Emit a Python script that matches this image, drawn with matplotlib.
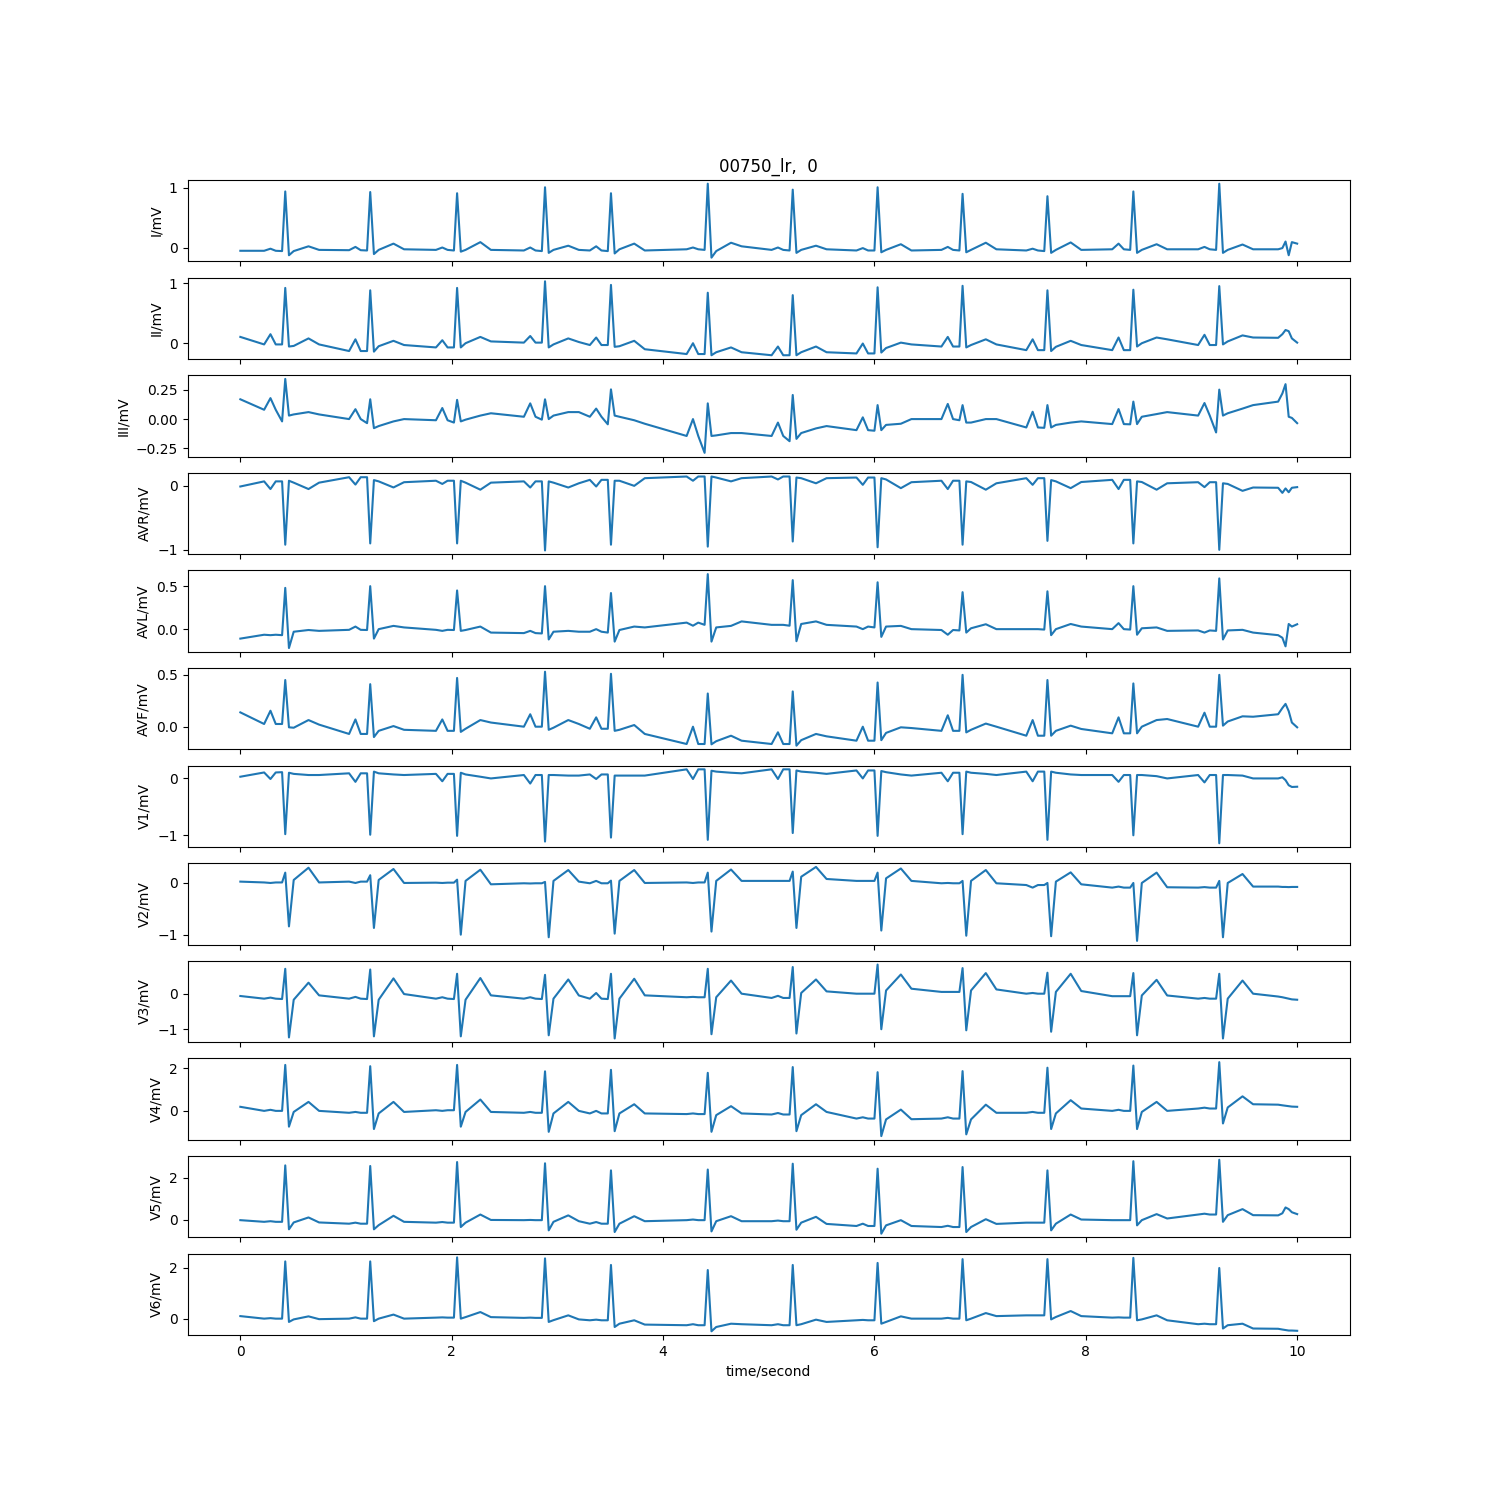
import matplotlib
matplotlib.use("Agg")
import matplotlib.pyplot as plt

TITLE = "00750_lr,  0"
LEAD_NAMES = ["I", "II", "III", "AVR", "AVL", "AVF", "V1", "V2", "V3", "V4", "V5", "V6"]

# R-peak times (s), shared by all leads
R_TIMES = [0.425, 1.229, 2.051, 2.883, 3.507, 4.423, 5.227, 6.030, 6.834, 7.637, 8.450, 9.263]

# per beat rows: [P peak, baseline, Q, R, S, J, T peak, post-T level]  (mV)
I_START = -0.055
I_BEATS = [
    [-0.02, -0.055, -0.06, 0.94, -0.13, -0.06, 0.02, -0.04],
    [0.01, -0.045, -0.05, 0.93, -0.11, -0.04, 0.065, -0.03],
    [0.0, -0.04, -0.05, 0.91, -0.07, -0.04, 0.09, -0.04],
    [0.0, -0.05, -0.06, 1.01, -0.09, -0.04, 0.03, -0.04],
    [0.02, -0.05, -0.06, 0.91, -0.10, -0.03, 0.065, -0.05],
    [0.0, -0.03, -0.04, 1.07, -0.17, -0.06, 0.08, 0.02],
    [0.0, -0.04, -0.05, 0.97, -0.09, -0.04, 0.03, -0.03],
    [-0.01, -0.05, -0.05, 1.01, -0.08, -0.04, 0.055, -0.05],
    [0.01, -0.04, -0.05, 0.90, -0.08, -0.04, 0.08, -0.03],
    [-0.02, -0.05, -0.06, 0.86, -0.09, -0.04, 0.085, -0.04],
    [0.065, -0.03, -0.04, 0.94, -0.09, -0.04, 0.055, -0.03],
    [0.01, -0.03, -0.04, 1.07, -0.09, -0.04, 0.05, -0.03],
]
I_TAIL = [-0.03, -0.01, 0.10, -0.13, 0.09, 0.065]

II_START = 0.105
II_BEATS = [
    [0.15, -0.02, -0.02, 0.92, -0.055, -0.045, 0.08, -0.02],
    [0.065, -0.13, -0.13, 0.88, -0.14, -0.05, 0.04, -0.03],
    [0.05, -0.07, -0.07, 0.92, -0.07, 0.0, 0.105, 0.03],
    [0.12, 0.01, 0.01, 1.03, -0.07, -0.02, 0.08, 0.02],
    [0.095, -0.03, -0.03, 0.97, -0.06, -0.05, 0.04, -0.10],
    [0.0, -0.18, -0.18, 0.84, -0.20, -0.15, -0.07, -0.15],
    [-0.055, -0.20, -0.20, 0.80, -0.20, -0.15, -0.055, -0.15],
    [-0.005, -0.17, -0.17, 0.93, -0.155, -0.08, 0.01, -0.02],
    [0.105, -0.055, -0.055, 0.955, -0.07, -0.03, 0.065, -0.02],
    [0.065, -0.115, -0.115, 0.88, -0.13, -0.06, 0.04, -0.03],
    [0.095, -0.115, -0.115, 0.89, -0.055, 0.0, 0.095, 0.065],
    [0.14, -0.03, -0.03, 0.95, -0.02, 0.03, 0.13, 0.095],
]
II_TAIL = [0.09, 0.15, 0.22, 0.20, 0.08, 0.01]

III_START = 0.17
III_BEATS = [
    [0.18, 0.08, -0.02, 0.345, 0.03, 0.04, 0.06, 0.04],
    [0.085, 0.0, -0.035, 0.17, -0.078, -0.06, -0.02, 0.0],
    [0.095, -0.01, -0.03, 0.165, -0.02, -0.005, 0.03, 0.05],
    [0.135, 0.02, -0.005, 0.17, 0.0, 0.03, 0.06, 0.06],
    [0.09, 0.02, -0.045, 0.255, 0.03, 0.02, -0.01, -0.04],
    [0.0, -0.145, -0.29, 0.135, -0.145, -0.14, -0.12, -0.12],
    [-0.03, -0.145, -0.19, 0.207, -0.17, -0.12, -0.08, -0.06],
    [0.015, -0.095, -0.10, 0.12, -0.095, -0.05, -0.04, 0.0],
    [0.13, 0.0, -0.01, 0.12, -0.03, -0.03, 0.0, 0.0],
    [0.063, -0.072, -0.075, 0.12, -0.072, -0.05, -0.03, -0.02],
    [0.086, -0.043, -0.045, 0.15, -0.043, 0.02, 0.043, 0.06],
    [0.138, 0.03, -0.115, 0.253, 0.03, 0.05, 0.09, 0.12],
]
III_TAIL = [0.15, 0.22, 0.30, 0.02, 0.01, -0.035]

AVR_START = -0.01
AVR_BEATS = [
    [-0.05, 0.07, 0.07, -0.92, 0.08, 0.05, -0.05, 0.05],
    [0.02, 0.135, 0.135, -0.90, 0.09, 0.07, -0.025, 0.057],
    [0.03, 0.08, 0.08, -0.90, 0.08, 0.05, -0.06, 0.05],
    [-0.026, 0.07, 0.07, -1.01, 0.07, 0.05, -0.026, 0.04],
    [-0.01, 0.094, 0.094, -0.92, 0.08, 0.08, 0.0, 0.12],
    [0.08, 0.146, 0.146, -0.95, 0.146, 0.13, 0.07, 0.12],
    [0.10, 0.146, 0.146, -0.87, 0.13, 0.12, 0.04, 0.12],
    [0.016, 0.13, 0.13, -0.96, 0.12, 0.10, -0.036, 0.057],
    [-0.05, 0.08, 0.08, -0.92, 0.07, 0.06, -0.06, 0.04],
    [0.016, 0.12, 0.12, -0.86, 0.09, 0.07, -0.036, 0.06],
    [-0.05, 0.094, 0.094, -0.90, 0.07, 0.06, -0.06, 0.04],
    [-0.02, 0.057, 0.057, -1.00, 0.04, 0.03, -0.078, -0.026],
]
AVR_TAIL = [-0.03, -0.11, -0.04, -0.10, -0.03, -0.02]

AVL_START = -0.11
AVL_BEATS = [
    [-0.07, -0.065, -0.07, 0.48, -0.22, -0.03, -0.01, -0.02],
    [0.03, -0.008, -0.01, 0.50, -0.11, 0.0, 0.038, 0.02],
    [-0.02, -0.008, -0.01, 0.45, -0.02, -0.01, 0.03, -0.04],
    [-0.02, -0.046, -0.05, 0.50, -0.12, -0.03, -0.02, -0.03],
    [0.0, -0.03, -0.04, 0.42, -0.145, -0.01, 0.03, 0.02],
    [0.04, 0.076, 0.05, 0.64, -0.145, 0.02, 0.038, 0.09],
    [0.05, 0.05, 0.04, 0.57, -0.14, 0.06, 0.09, 0.05],
    [0.0, 0.03, 0.02, 0.545, -0.09, 0.03, 0.038, 0.0],
    [-0.065, -0.01, -0.015, 0.43, -0.04, 0.01, 0.057, 0.0],
    [0.0, 0.0, -0.005, 0.44, -0.07, 0.0, 0.06, 0.03],
    [0.07, 0.0, -0.005, 0.50, -0.065, 0.01, 0.02, -0.02],
    [-0.04, -0.015, -0.02, 0.59, -0.12, -0.015, -0.008, -0.04],
]
AVL_TAIL = [-0.07, -0.10, -0.20, 0.06, 0.03, 0.057]

AVF_START = 0.138
AVF_BEATS = [
    [0.154, 0.026, 0.026, 0.45, -0.006, -0.01, 0.064, 0.02],
    [0.07, -0.07, -0.07, 0.41, -0.10, -0.04, 0.006, -0.03],
    [0.07, -0.04, -0.04, 0.47, -0.05, -0.02, 0.064, 0.04],
    [0.12, 0.0, 0.0, 0.53, -0.03, -0.01, 0.064, 0.026],
    [0.09, -0.02, -0.02, 0.51, -0.04, -0.03, 0.016, -0.07],
    [0.0, -0.167, -0.167, 0.32, -0.17, -0.14, -0.087, -0.135],
    [-0.054, -0.167, -0.167, 0.34, -0.183, -0.13, -0.07, -0.093],
    [0.0, -0.135, -0.135, 0.426, -0.13, -0.06, -0.006, -0.013],
    [0.11, -0.04, -0.04, 0.50, -0.055, -0.03, 0.03, 0.0],
    [0.064, -0.087, -0.087, 0.45, -0.087, -0.04, 0.01, -0.022],
    [0.09, -0.064, -0.064, 0.417, -0.064, 0.0, 0.064, 0.074],
    [0.135, 0.0, 0.0, 0.50, 0.01, 0.05, 0.10, 0.096],
]
AVF_TAIL = [0.12, 0.18, 0.22, 0.15, 0.04, -0.006]

V1_START = 0.03
V1_BEATS = [
    [-0.01, 0.105, 0.11, -0.98, 0.10, 0.08, 0.06, 0.06],
    [-0.06, 0.09, 0.09, -0.99, 0.12, 0.09, 0.07, 0.06],
    [-0.05, 0.08, 0.08, -1.01, 0.10, 0.07, 0.03, 0.0],
    [-0.09, 0.06, 0.06, -1.11, 0.06, 0.06, 0.05, 0.05],
    [-0.01, 0.07, 0.07, -1.04, 0.05, 0.05, 0.05, 0.05],
    [-0.01, 0.16, 0.16, -1.08, 0.135, 0.12, 0.10, 0.09],
    [-0.01, 0.16, 0.16, -0.96, 0.14, 0.12, 0.10, 0.08],
    [0.0, 0.14, 0.14, -1.01, 0.13, 0.11, 0.07, 0.05],
    [-0.05, 0.10, 0.10, -0.98, 0.12, 0.10, 0.08, 0.06],
    [-0.05, 0.12, 0.12, -1.08, 0.12, 0.10, 0.07, 0.06],
    [-0.06, 0.06, 0.06, -1.00, 0.06, 0.06, 0.04, 0.0],
    [-0.07, 0.06, 0.06, -1.14, 0.06, 0.06, 0.05, 0.0],
]
V1_TAIL = [0.0, 0.02, -0.03, -0.12, -0.15, -0.146]

V2_START = 0.026
V2_BEATS = [
    [0.0, 0.01, 0.01, 0.20, -0.84, 0.058, 0.295, 0.01],
    [0.0, 0.026, 0.026, 0.15, -0.87, 0.058, 0.27, 0.0],
    [0.0, 0.006, 0.006, 0.064, -1.00, 0.04, 0.256, -0.026],
    [-0.01, -0.006, -0.006, 0.02, -1.05, 0.04, 0.25, 0.026],
    [0.04, -0.006, -0.006, 0.045, -0.98, 0.04, 0.25, 0.0],
    [0.0, 0.01, 0.01, 0.20, -0.94, 0.04, 0.26, 0.04],
    [0.04, 0.04, 0.04, 0.22, -0.87, 0.12, 0.31, 0.077],
    [0.04, 0.04, 0.04, 0.20, -0.92, 0.09, 0.28, 0.04],
    [0.0, -0.006, -0.006, 0.04, -1.02, 0.04, 0.25, -0.006],
    [-0.09, -0.04, -0.04, 0.0, -1.03, 0.026, 0.205, -0.026],
    [-0.07, -0.09, -0.09, 0.0, -1.12, 0.0, 0.20, -0.083],
    [-0.08, -0.09, -0.09, 0.04, -1.05, 0.0, 0.173, -0.07],
]
V2_TAIL = [-0.07, -0.077, -0.077, -0.08, -0.077, -0.077]

V3_START = -0.065
V3_BEATS = [
    [-0.11, -0.14, -0.15, 0.70, -1.23, -0.17, 0.31, -0.047],
    [-0.09, -0.14, -0.15, 0.68, -1.20, -0.17, 0.43, -0.01],
    [-0.10, -0.14, -0.15, 0.56, -1.20, -0.17, 0.44, -0.047],
    [-0.10, -0.14, -0.15, 0.53, -1.17, -0.14, 0.40, -0.05],
    [0.02, -0.14, -0.15, 0.56, -1.26, -0.14, 0.42, -0.047],
    [-0.09, -0.10, -0.10, 0.70, -1.14, -0.10, 0.37, 0.0],
    [-0.06, -0.12, -0.12, 0.75, -1.12, 0.02, 0.40, 0.065],
    [0.0, 0.0, 0.0, 0.82, -1.00, 0.09, 0.54, 0.14],
    [0.05, 0.05, 0.05, 0.72, -1.03, 0.09, 0.58, 0.12],
    [0.02, 0.0, 0.0, 0.59, -1.07, 0.05, 0.56, 0.075],
    [-0.07, -0.07, -0.07, 0.58, -1.17, -0.05, 0.39, -0.05],
    [-0.12, -0.14, -0.14, 0.56, -1.26, -0.14, 0.37, 0.0],
]
V3_TAIL = [-0.08, -0.10, -0.12, -0.14, -0.16, -0.17]

V4_START = 0.19
V4_BEATS = [
    [0.05, 0.0, 0.0, 2.15, -0.74, -0.05, 0.42, 0.0],
    [-0.05, -0.09, -0.09, 2.09, -0.85, -0.12, 0.42, -0.05],
    [0.0, 0.03, 0.03, 2.15, -0.74, -0.05, 0.53, -0.05],
    [-0.05, -0.09, -0.09, 1.85, -0.98, -0.12, 0.42, 0.0],
    [0.0, -0.12, -0.12, 1.92, -0.95, -0.12, 0.31, -0.12],
    [-0.12, -0.15, -0.15, 1.78, -0.98, -0.20, 0.22, -0.12],
    [-0.10, -0.17, -0.17, 2.05, -0.95, -0.20, 0.31, -0.05],
    [-0.30, -0.36, -0.36, 1.81, -1.18, -0.40, 0.06, -0.39],
    [-0.30, -0.36, -0.36, 1.86, -1.10, -0.40, 0.29, -0.09],
    [-0.05, -0.09, -0.09, 2.02, -0.85, -0.12, 0.50, 0.11],
    [0.05, 0.0, 0.0, 2.12, -0.85, -0.05, 0.42, 0.0],
    [0.15, 0.11, 0.11, 2.28, -0.59, 0.16, 0.68, 0.31],
]
V4_TAIL = [0.29, 0.26, 0.24, 0.22, 0.20, 0.19]

V5_START = -0.03
V5_BEATS = [
    [-0.08, -0.11, -0.11, 2.60, -0.47, -0.14, 0.10, -0.14],
    [-0.15, -0.20, -0.20, 2.57, -0.47, -0.27, 0.18, -0.11],
    [-0.12, -0.15, -0.15, 2.76, -0.36, -0.15, 0.24, -0.02],
    [-0.02, -0.03, -0.03, 2.70, -0.52, -0.11, 0.20, -0.08],
    [-0.12, -0.20, -0.20, 2.36, -0.60, -0.20, 0.16, -0.08],
    [0.0, -0.03, -0.03, 2.40, -0.57, -0.08, 0.16, -0.08],
    [-0.05, -0.08, -0.08, 2.68, -0.49, -0.15, 0.13, -0.21],
    [-0.20, -0.31, -0.31, 2.44, -0.68, -0.28, -0.03, -0.31],
    [-0.30, -0.36, -0.36, 2.52, -0.60, -0.36, 0.016, -0.21],
    [-0.15, -0.15, -0.15, 2.36, -0.52, -0.20, 0.24, 0.0],
    [-0.03, -0.03, -0.03, 2.80, -0.28, -0.03, 0.26, 0.05],
    [0.28, 0.24, 0.24, 2.87, -0.11, 0.21, 0.50, 0.21],
]
V5_TAIL = [0.20, 0.30, 0.58, 0.50, 0.35, 0.26]

V6_START = 0.10
V6_BEATS = [
    [0.02, 0.0, 0.0, 2.26, -0.13, -0.03, 0.09, -0.02],
    [0.05, 0.0, 0.0, 2.26, -0.10, 0.0, 0.16, 0.0],
    [0.05, 0.04, 0.04, 2.42, 0.0, 0.06, 0.26, 0.06],
    [0.04, 0.03, 0.03, 2.38, -0.13, -0.06, 0.13, -0.03],
    [-0.04, -0.065, -0.065, 2.12, -0.33, -0.20, -0.065, -0.235],
    [-0.22, -0.26, -0.26, 1.92, -0.50, -0.33, -0.20, -0.22],
    [-0.22, -0.26, -0.26, 2.12, -0.26, -0.22, -0.04, -0.13],
    [-0.05, -0.065, -0.065, 2.20, -0.20, -0.13, 0.09, 0.0],
    [0.03, 0.0, 0.0, 2.35, -0.065, 0.0, 0.22, 0.10],
    [0.13, 0.13, 0.13, 2.35, -0.03, 0.065, 0.30, 0.10],
    [0.05, 0.04, 0.04, 2.40, -0.065, -0.03, 0.13, -0.065],
    [-0.20, -0.22, -0.22, 2.00, -0.39, -0.26, -0.20, -0.39],
]
V6_TAIL = [-0.40, -0.43, -0.45, -0.47, -0.47, -0.48]

TAIL_TIMES = [9.82, 9.86, 9.89, 9.92, 9.95, 10.0]

LEADS = [
    (I_START, I_BEATS, I_TAIL), (II_START, II_BEATS, II_TAIL),
    (III_START, III_BEATS, III_TAIL), (AVR_START, AVR_BEATS, AVR_TAIL),
    (AVL_START, AVL_BEATS, AVL_TAIL), (AVF_START, AVF_BEATS, AVF_TAIL),
    (V1_START, V1_BEATS, V1_TAIL), (V2_START, V2_BEATS, V2_TAIL),
    (V3_START, V3_BEATS, V3_TAIL), (V4_START, V4_BEATS, V4_TAIL),
    (V5_START, V5_BEATS, V5_TAIL), (V6_START, V6_BEATS, V6_TAIL),
]

# wave timing relative to the R peak (s): P onset, P peak, P end, Q, S, J, T peak, post
P_ON, P_PK, P_END, Q_OFF, S_OFF, J_OFF, T_OFF, POST_OFF = -0.20, -0.14, -0.09, -0.03, 0.035, 0.08, 0.22, 0.32


def trace(start, beats, tail):
    ts, vs = [0.0], [start]
    for rt, (p, b, q, r, s, j, t, post) in zip(R_TIMES, beats):
        ts += [rt + P_ON, rt + P_PK, rt + P_END, rt + Q_OFF, rt,
               rt + S_OFF, rt + J_OFF, rt + T_OFF, rt + POST_OFF]
        vs += [b, p, b, q, r, s, j, t, post]
    ts += TAIL_TIMES
    vs += tail
    return ts, vs


fig, axes = plt.subplots(len(LEAD_NAMES), 1, figsize=(15, 15), dpi=100, sharex=True)
for ax, name, (start, beats, tail) in zip(axes, LEAD_NAMES, LEADS):
    ts, vs = trace(start, beats, tail)
    ax.plot(ts, vs)
    ax.set_ylabel(f"{name}/mV")
axes[0].set_title(TITLE)
axes[-1].set_xlabel("time/second")
fig.savefig("out.png")
